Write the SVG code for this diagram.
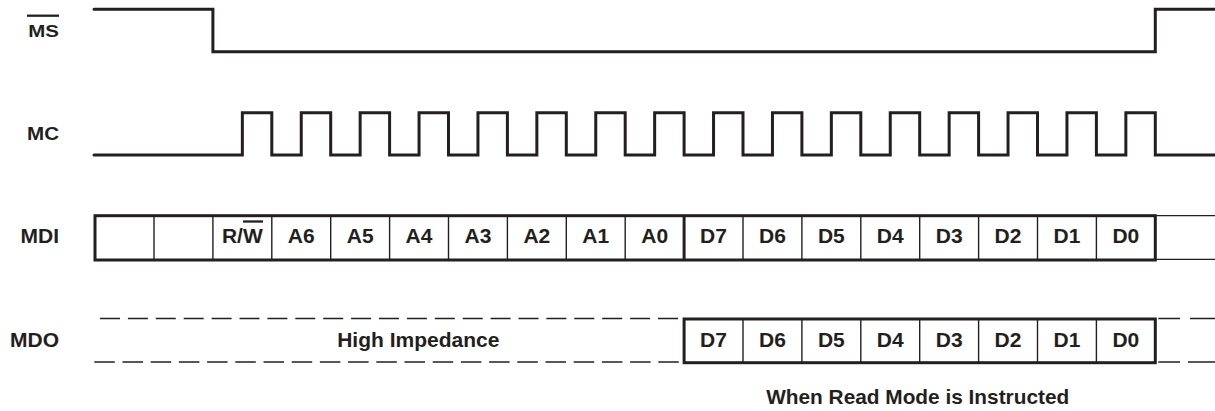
<svg xmlns="http://www.w3.org/2000/svg" width="1215" height="411" viewBox="0 0 1215 411">
<style>
text{font-family:"Liberation Sans",Arial,Helvetica,sans-serif;font-weight:bold;fill:#231f20}
.lbl{font-size:21px;text-anchor:end}
.cell{font-size:21px;text-anchor:middle}
.wave{fill:none;stroke:#231f20;stroke-width:3;stroke-linecap:round;stroke-linejoin:miter}
.box{fill:none;stroke:#231f20;stroke-width:3}
.div{stroke:#231f20;stroke-width:1.4}
.thin{stroke:#231f20;stroke-width:1.3;fill:none}
.ovl{stroke:#231f20;stroke-width:2.3}
</style>
<rect width="1215" height="411" fill="#ffffff"/>
<g id="MS">
<text x="28.3" y="36.7" font-size="16.5" textLength="30.7" lengthAdjust="spacingAndGlyphs">MS</text>
<line class="ovl" x1="27" y1="15.7" x2="59" y2="15.7"/>
<path class="wave" d="M94,9.3 H212.9 V51.7 H1155.3 V9.3 H1215"/>
</g>
<g id="MC">
<text x="27" y="140" font-size="17.5" textLength="32" lengthAdjust="spacingAndGlyphs">MC</text>
<path class="wave" d="M94,155 H242.35 V112.7 H271.8 V155 H301.25 V112.7 H330.7 V155 H360.15 V112.7 H389.6 V155 H419.05 V112.7 H448.5 V155 H477.95 V112.7 H507.4 V155 H536.85 V112.7 H566.3 V155 H595.75 V112.7 H625.2 V155 H654.65 V112.7 H684.1 V155 H713.55 V112.7 H743 V155 H772.45 V112.7 H801.9 V155 H831.35 V112.7 H860.8 V155 H890.25 V112.7 H919.7 V155 H949.15 V112.7 H978.6 V155 H1008.05 V112.7 H1037.5 V155 H1066.95 V112.7 H1096.4 V155 H1125.85 V112.7 H1155.3 V155 H1215"/>
</g>
<g id="MDI">
<text class="lbl" x="59" y="243.3">MDI</text>
<rect class="box" x="95" y="215.7" width="1060.3" height="44.3"/>
<g class="div">
<line x1="154" y1="215.7" x2="154" y2="260"/>
<line x1="212.9" y1="215.7" x2="212.9" y2="260"/>
<line x1="271.8" y1="215.7" x2="271.8" y2="260"/>
<line x1="330.7" y1="215.7" x2="330.7" y2="260"/>
<line x1="389.6" y1="215.7" x2="389.6" y2="260"/>
<line x1="448.5" y1="215.7" x2="448.5" y2="260"/>
<line x1="507.4" y1="215.7" x2="507.4" y2="260"/>
<line x1="566.3" y1="215.7" x2="566.3" y2="260"/>
<line x1="625.2" y1="215.7" x2="625.2" y2="260"/>
<line x1="743" y1="215.7" x2="743" y2="260"/>
<line x1="801.9" y1="215.7" x2="801.9" y2="260"/>
<line x1="860.8" y1="215.7" x2="860.8" y2="260"/>
<line x1="919.7" y1="215.7" x2="919.7" y2="260"/>
<line x1="978.6" y1="215.7" x2="978.6" y2="260"/>
<line x1="1037.5" y1="215.7" x2="1037.5" y2="260"/>
<line x1="1096.4" y1="215.7" x2="1096.4" y2="260"/>
</g>
<line x1="684.1" y1="215.7" x2="684.1" y2="261" stroke="#231f20" stroke-width="3"/>
<path class="thin" d="M1155.3,215.7 H1215 M1155.3,259.3 H1215"/>
<text class="cell" x="242.35" y="243">R/W</text>
<line class="ovl" x1="243" y1="221.5" x2="263" y2="221.5" stroke-width="2"/>
<text class="cell" x="301.25" y="243">A6</text>
<text class="cell" x="360.15" y="243">A5</text>
<text class="cell" x="419.05" y="243">A4</text>
<text class="cell" x="477.95" y="243">A3</text>
<text class="cell" x="536.85" y="243">A2</text>
<text class="cell" x="595.75" y="243">A1</text>
<text class="cell" x="654.65" y="243">A0</text>
<text class="cell" x="713.55" y="243">D7</text>
<text class="cell" x="772.45" y="243">D6</text>
<text class="cell" x="831.35" y="243">D5</text>
<text class="cell" x="890.25" y="243">D4</text>
<text class="cell" x="949.15" y="243">D3</text>
<text class="cell" x="1008.05" y="243">D2</text>
<text class="cell" x="1066.95" y="243">D1</text>
<text class="cell" x="1125.85" y="243">D0</text>
</g>
<g id="MDO">
<text class="lbl" x="59" y="346.7">MDO</text>
<line class="thin" x1="100" y1="318.5" x2="678" y2="318.5" stroke-dasharray="20 7.9"/>
<line class="thin" x1="94.3" y1="362" x2="679" y2="362" stroke-dasharray="20.5 7.7"/>
<path class="thin" d="M1158.3,318.5 H1180 M1190,318.5 H1215 M1158.3,362 H1180 M1188,362 H1215"/>
<text class="cell" x="418.3" y="346.5">High Impedance</text>
<rect class="box" x="684.1" y="319" width="471.2" height="43.7"/>
<g class="div">
<line x1="743" y1="319" x2="743" y2="362.7"/>
<line x1="801.9" y1="319" x2="801.9" y2="362.7"/>
<line x1="860.8" y1="319" x2="860.8" y2="362.7"/>
<line x1="919.7" y1="319" x2="919.7" y2="362.7"/>
<line x1="978.6" y1="319" x2="978.6" y2="362.7"/>
<line x1="1037.5" y1="319" x2="1037.5" y2="362.7"/>
<line x1="1096.4" y1="319" x2="1096.4" y2="362.7"/>
</g>
<text class="cell" x="713.55" y="346.5">D7</text>
<text class="cell" x="772.45" y="346.5">D6</text>
<text class="cell" x="831.35" y="346.5">D5</text>
<text class="cell" x="890.25" y="346.5">D4</text>
<text class="cell" x="949.15" y="346.5">D3</text>
<text class="cell" x="1008.05" y="346.5">D2</text>
<text class="cell" x="1066.95" y="346.5">D1</text>
<text class="cell" x="1125.85" y="346.5">D0</text>
</g>
<g id="note">
<text class="cell" x="917.7" y="404" textLength="303" lengthAdjust="spacingAndGlyphs">When Read Mode is Instructed</text>
</g>
<g id="connectors"/>
</svg>
